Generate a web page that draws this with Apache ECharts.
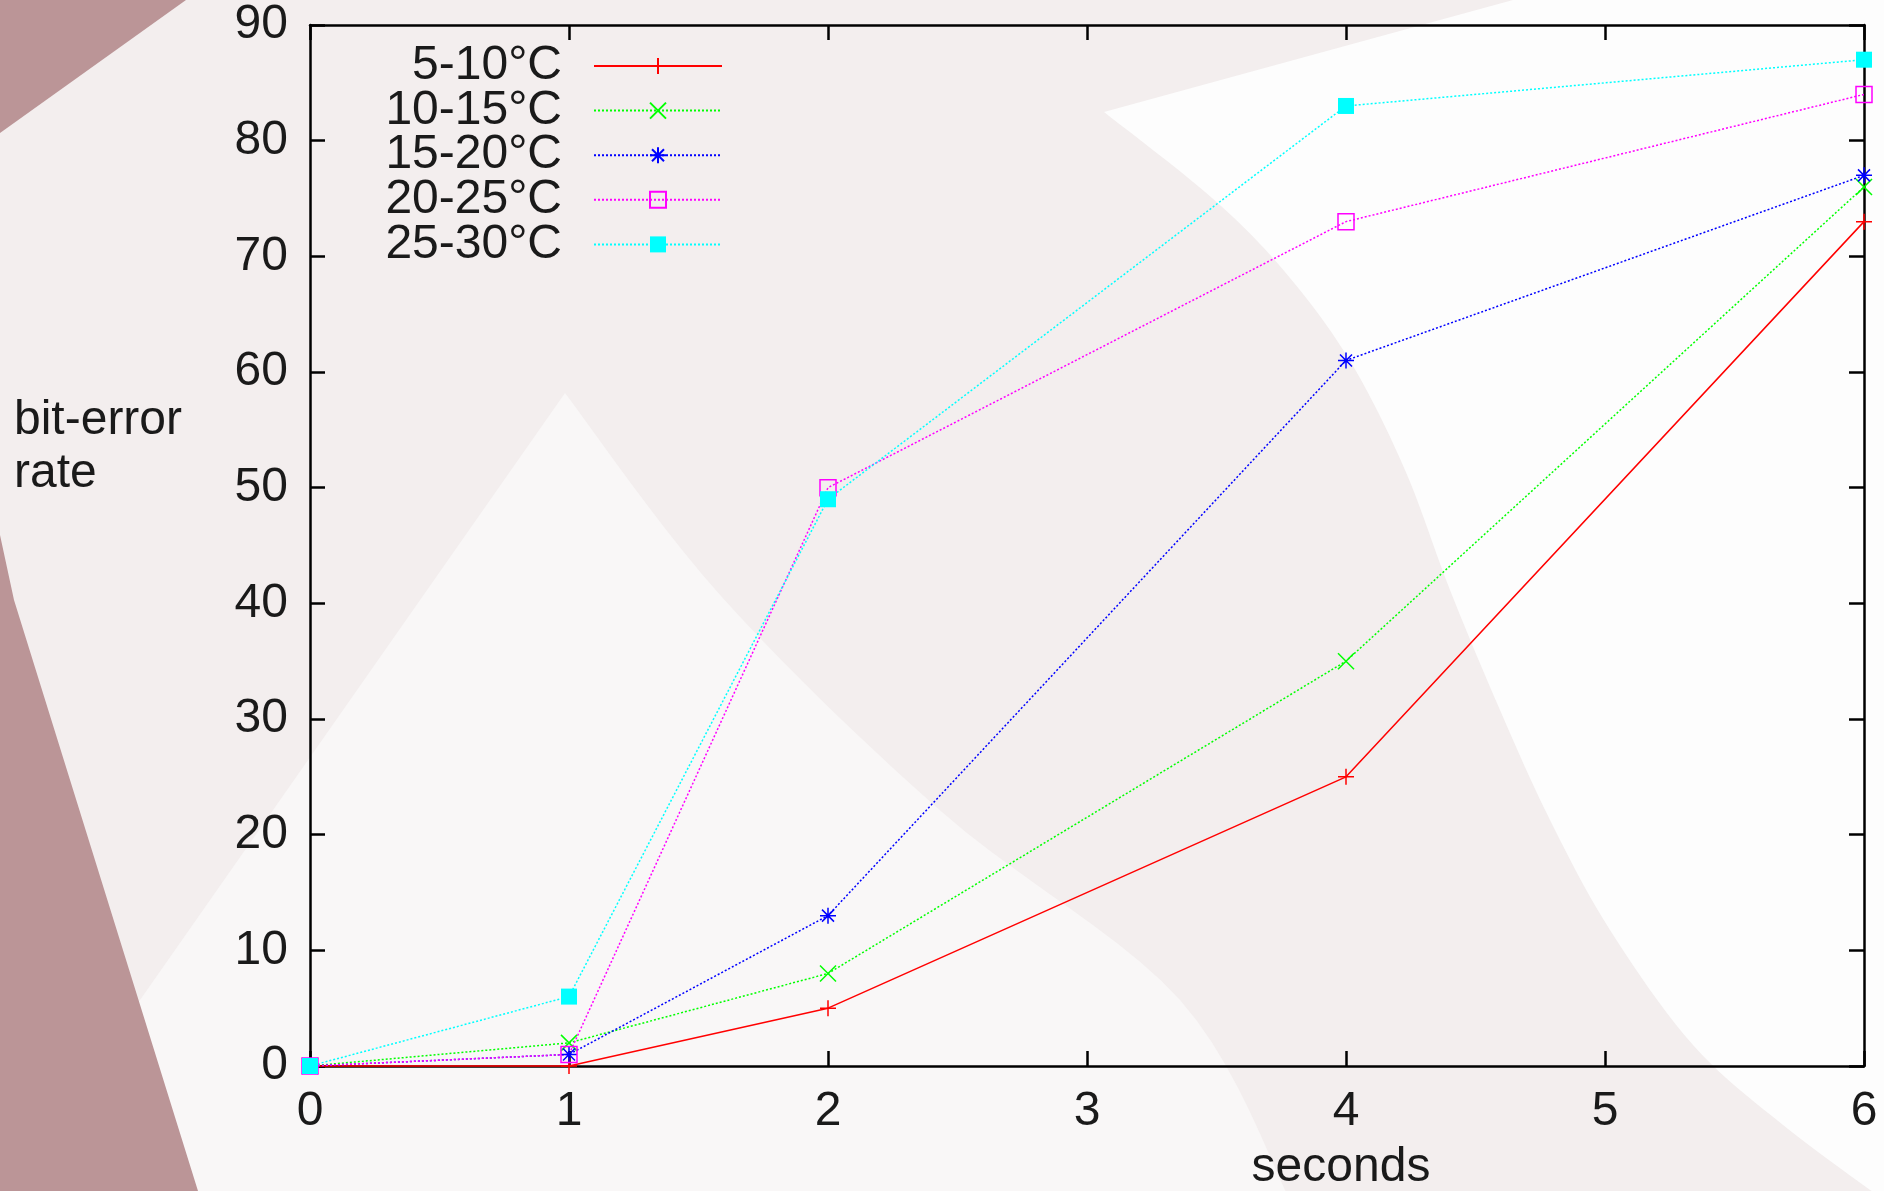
<!DOCTYPE html>
<html>
<head>
<meta charset="utf-8">
<script src="https://cdn.jsdelivr.net/npm/echarts@6/dist/echarts.min.js"></script>
<style>
  html, body { margin: 0; padding: 0; }
  #chart { width: 1884px; height: 1191px; }
</style>
</head>
<body>
<div id="chart"></div>
<script>
// data
const seconds = [0, 1, 2, 4, 6];
const seriesNames = ['5-10°C', '10-15°C', '15-20°C', '20-25°C', '25-30°C'];
const rate5to10 = [0, 0, 5, 25, 73];
const rate10to15 = [0, 2, 8, 35, 76];
const rate15to20 = [0, 1, 13, 61, 77];
const rate20to25 = [0, 1, 50, 73, 84];
const rate25to30 = [0, 6, 49, 83, 87];
const xTicks = [0, 1, 2, 3, 4, 5, 6];
const yTicks = [0, 10, 20, 30, 40, 50, 60, 70, 80, 90];

const FONT = '"Liberation Sans", Arial, sans-serif';
const TEXT = '#1a1a1a';
const FS = 48;

const chart = echarts.init(document.getElementById('chart'));

const pairs = (ys) => seconds.map((x, i) => [x, ys[i]]);

// catmull-rom sampling, only for the soft background shapes
const smoothPts = (pts) => {
  const out = [];
  for (let i = 0; i < pts.length - 1; i++) {
    const p0 = pts[i - 1] || pts[i];
    const p1 = pts[i];
    const p2 = pts[i + 1];
    const p3 = pts[i + 2] || p2;
    for (let s = 0; s < 10; s++) {
      const t = s / 10, t2 = t * t, t3 = t2 * t;
      const f = (a, b, c, d) => 0.5 * (2 * b + (-a + c) * t + (2 * a - 5 * b + 4 * c - d) * t2 + (-a + 3 * b - 3 * c + d) * t3);
      out.push([f(p0[0], p1[0], p2[0], p3[0]), f(p0[1], p1[1], p2[1], p3[1])]);
    }
  }
  out.push(pts[pts.length - 1]);
  return out;
};

const arcPts = [[1104, 112], [1212, 198], [1285, 272], [1350, 361], [1405, 470], [1450, 590],
  [1500, 710], [1550, 820], [1610, 930], [1693, 1045], [1783, 1125], [1884, 1200]];
const whitePoly = smoothPts(arcPts).concat([[1884, 0], [1513, 0]]);

const triPts = [[565, 393], [721, 596], [942, 812], [1180, 1000], [1290, 1200]];
const triPoly = smoothPts(triPts).concat([[0, 1200]]);

// gnuplot-like point types
const SYM_PLUS = 'path://M0,8 L16,8 M8,0 L8,16';
const SYM_CROSS = 'path://M0,0 L16,16 M16,0 L0,16';
const SYM_STAR = 'path://M0,8 L16,8 M8,0 L8,16 M2,2 L14,14 M14,2 L2,14';

const lineSeries = (name, ys, color, symbol, dotted, fill) => ({
  name: name,
  type: 'line',
  data: pairs(ys),
  clip: false,
  symbol: symbol,
  symbolSize: 16,
  showAllSymbol: true,
  lineStyle: { color: color, width: 1.5, type: dotted ? [2, 2] : 'solid' },
  itemStyle: {
    color: fill,
    borderColor: color,
    borderWidth: fill === color && symbol === 'rect' ? 0 : 1.5
  },
  emphasis: { disabled: true }
});

const tickStyle = { show: true, inside: true, length: 15, lineStyle: { color: '#000', width: 2.5 } };
const lineStyleAxis = { show: true, onZero: false, lineStyle: { color: '#000', width: 2.5 } };
const labelStyle = { margin: 22, fontFamily: FONT, fontSize: FS, color: TEXT };

const option = {
  backgroundColor: '#f3eeee',
  animation: false,
  graphic: [
    // soft white region upper right
    {
      type: 'polygon', z: -10, silent: true,
      shape: { points: whitePoly },
      style: { fill: '#fdfdfd' }
    },
    // lighter triangle in the middle
    {
      type: 'polygon', z: -10, silent: true,
      shape: { points: triPoly },
      style: { fill: '#f9f7f7' }
    },
    // reddish corner and band
    {
      type: 'polygon', z: -9, silent: true,
      shape: { points: [[0, 0], [186, 0], [0, 133]] },
      style: { fill: '#bb9597' }
    },
    {
      type: 'polygon', z: -9, silent: true,
      shape: { points: [[0, 535], [14, 600], [198, 1191], [0, 1191]] },
      style: { fill: '#bb9597' }
    },
    // axis titles
    {
      type: 'text', left: 14, top: 394, z: 10,
      style: { text: 'bit-error\nrate', font: FS + 'px ' + FONT, fill: TEXT, lineHeight: 53 }
    },
    {
      type: 'text', x: 1341, y: 1168, z: 10,
      style: { text: 'seconds', font: FS + 'px ' + FONT, fill: TEXT, align: 'center', verticalAlign: 'middle' }
    }
  ],
  legend: {
    orient: 'vertical',
    align: 'right',
    right: 1161,
    top: 42,
    padding: 0,
    itemGap: -3.4,
    itemWidth: 128,
    itemHeight: 20,
    data: seriesNames,
    textStyle: {
      fontFamily: FONT, fontSize: FS, color: TEXT,
      padding: [0, 27, 0, 0]
    }
  },
  grid: { left: 310, right: 20, top: 25, bottom: 125, containLabel: false },
  xAxis: [
    {
      type: 'value', position: 'bottom', min: 0, max: 6, interval: 1,
      axisLine: lineStyleAxis, axisTick: tickStyle,
      axisLabel: Object.assign({ customValues: xTicks }, labelStyle),
      splitLine: { show: false }
    },
    {
      type: 'value', position: 'top', min: 0, max: 6, interval: 1,
      axisLine: lineStyleAxis, axisTick: tickStyle,
      axisLabel: { show: false },
      splitLine: { show: false }
    }
  ],
  yAxis: [
    {
      type: 'value', position: 'left', min: 0, max: 90, interval: 10,
      axisLine: lineStyleAxis, axisTick: tickStyle,
      axisLabel: Object.assign({ customValues: yTicks }, labelStyle),
      splitLine: { show: false }
    },
    {
      type: 'value', position: 'right', min: 0, max: 90, interval: 10,
      axisLine: lineStyleAxis, axisTick: tickStyle,
      axisLabel: { show: false },
      splitLine: { show: false }
    }
  ],
  series: [
    lineSeries(seriesNames[0], rate5to10, '#ff0000', SYM_PLUS, false, '#ff0000'),
    lineSeries(seriesNames[1], rate10to15, '#00ff00', SYM_CROSS, true, '#00ff00'),
    lineSeries(seriesNames[2], rate15to20, '#0000ff', SYM_STAR, true, '#0000ff'),
    lineSeries(seriesNames[3], rate20to25, '#ff00ff', 'rect', true, 'rgba(0,0,0,0)'),
    lineSeries(seriesNames[4], rate25to30, '#00ffff', 'rect', true, '#00ffff')
  ]
};

chart.setOption(option);
window.addEventListener('resize', () => chart.resize());
</script>
</body>
</html>
